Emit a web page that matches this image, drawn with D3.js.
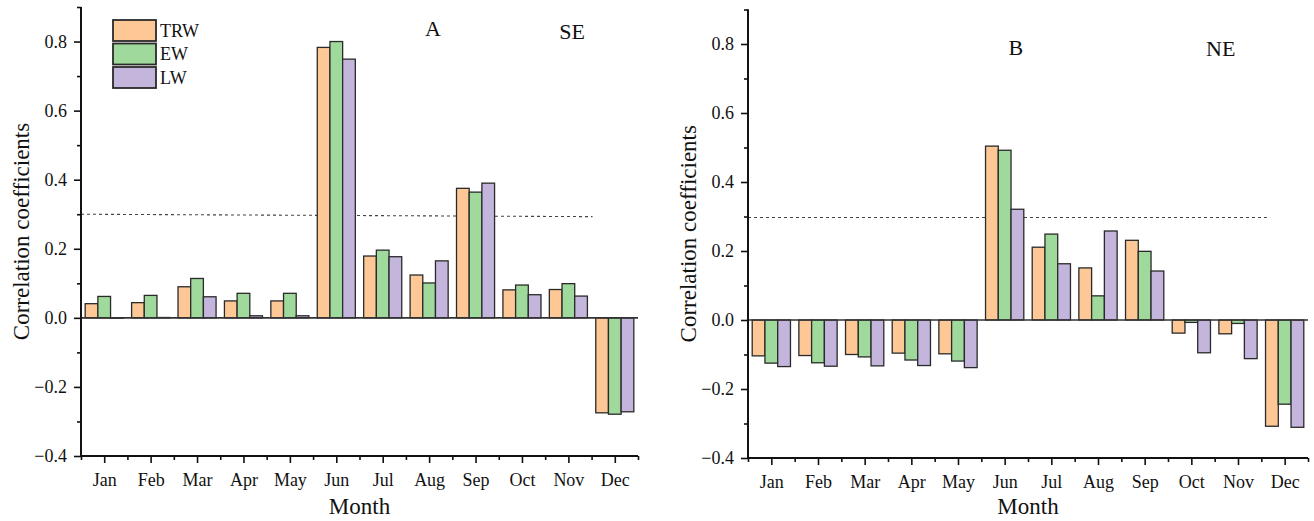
<!DOCTYPE html>
<html>
<head>
<meta charset="utf-8">
<script src="https://cdn.jsdelivr.net/npm/d3@7/dist/d3.min.js"></script>
<style>
  html, body { margin: 0; padding: 0; background: #fff; }
  svg { display: block; }
  text { font-family: "Liberation Serif", "Times New Roman", serif; fill: #111; }
</style>
</head>
<body>
<svg id="chart" width="1314" height="521"></svg>
<script>
// ---------- data ----------
const months = ["Jan","Feb","Mar","Apr","May","Jun","Jul","Aug","Sep","Oct","Nov","Dec"];
const seriesNames = ["TRW","EW","LW"];
const seriesColors = ["#FDC896","#9FDA9C","#C4B5DC"];

// Panel A (SE)
const trwA = [0.041, 0.044, 0.090, 0.049, 0.049, 0.783, 0.179, 0.124, 0.375, 0.081, 0.082, -0.275];
const ewA  = [0.062, 0.065, 0.114, 0.071, 0.071, 0.800, 0.196, 0.101, 0.364, 0.095, 0.099, -0.279];
const lwA  = [-0.001, 0.001, 0.061, 0.006, 0.006, 0.749, 0.177, 0.165, 0.390, 0.067, 0.063, -0.272];

// Panel B (NE)
const trwB = [-0.104, -0.103, -0.100, -0.096, -0.098, 0.504, 0.211, 0.151, 0.231, -0.038, -0.040, -0.308];
const ewB  = [-0.125, -0.124, -0.107, -0.116, -0.119, 0.492, 0.249, 0.070, 0.199, -0.007, -0.010, -0.244];
const lwB  = [-0.135, -0.134, -0.133, -0.132, -0.138, 0.321, 0.163, 0.258, 0.142, -0.095, -0.112, -0.311];

// significance threshold lines (month position, value)
const thresholdA = [[0.5, 0.300], [11.52, 0.293]];
const thresholdB = [[0.5, 0.297], [11.62, 0.297]];

const yMajorTicks = [-0.4, -0.2, 0.0, 0.2, 0.4, 0.6, 0.8];
const yMinorTicks = [-0.3, -0.1, 0.1, 0.3, 0.5, 0.7, 0.9];
const yDomain = [-0.4, 0.9];

// ---------- drawing ----------
const svg = d3.select("#chart");

function panel(cfg) {
  const g = svg.append("g");
  const x = d3.scaleLinear().domain([0.5, 12.5]).range([cfg.left, cfg.right]);
  const xb = d3.scaleBand().domain(months).range([cfg.left, cfg.right])
               .paddingInner(0.18).paddingOuter(0.09);
  const xs = d3.scaleBand().domain(seriesNames).range([0, xb.bandwidth()]);
  const y = d3.scaleLinear().domain(yDomain).range([cfg.bottom, cfg.top]);

  // threshold dashed line
  g.append("path")
    .attr("d", d3.line().x(d => x(d[0])).y(d => y(d[1]))(cfg.threshold))
    .attr("fill", "none").attr("stroke", "#444").attr("stroke-width", 1.1)
    .attr("stroke-dasharray", "3,3");

  // bars
  cfg.series.forEach((vals, si) => {
    g.append("g").selectAll("rect").data(vals).join("rect")
      .attr("x", (d, i) => xb(months[i]) + xs(seriesNames[si]))
      .attr("width", xs.bandwidth())
      .attr("y", d => y(Math.max(0, d)))
      .attr("height", d => Math.abs(y(d) - y(0)))
      .attr("fill", seriesColors[si])
      .attr("stroke", "#2a2a2a")
      .attr("stroke-width", 1.3);
  });

  // zero line
  g.append("line")
    .attr("x1", x(0.5)).attr("x2", x(12.5))
    .attr("y1", y(0)).attr("y2", y(0))
    .attr("stroke", "#333").attr("stroke-width", 1.6);

  // y axis minor
  const yMin = g.append("g").attr("transform", `translate(${cfg.left},0)`)
    .call(d3.axisLeft(y).tickValues(yMinorTicks).tickSize(4).tickFormat(""));
  // y axis major
  const yAx = g.append("g").attr("transform", `translate(${cfg.left},0)`)
    .call(d3.axisLeft(y).tickValues(yMajorTicks).tickSize(7).tickPadding(7)
      .tickFormat(d3.format(".1f")));
  // x axis minor
  const xMin = g.append("g").attr("transform", `translate(0,${cfg.bottom})`)
    .call(d3.axisBottom(x).tickValues(d3.range(0.5, 13, 1)).tickSize(4).tickFormat(""));
  // x axis major
  const xAx = g.append("g").attr("transform", `translate(0,${cfg.bottom})`)
    .call(d3.axisBottom(x).tickValues(d3.range(1, 13)).tickSize(7).tickPadding(10)
      .tickFormat(d => months[d - 1]));

  [yMin, yAx, xMin, xAx].forEach(a => {
    a.select(".domain").attr("stroke", "#111").attr("stroke-width", 1.8);
    a.selectAll(".tick line").attr("stroke", "#111").attr("stroke-width", 1.6);
    a.selectAll("text").attr("font-family", "Liberation Serif").attr("font-size", 18).attr("fill", "#111");
  });
  yMin.select(".domain").attr("d", `M0,${cfg.bottom}V${cfg.top}`);
  yAx.select(".domain").attr("d", `M0,${cfg.bottom}V${cfg.top}`);
  xMin.select(".domain").attr("d", `M${cfg.left},0H${cfg.right}`);
  xAx.select(".domain").attr("d", `M${cfg.left},0H${cfg.right}`);

  // axis titles
  g.append("text")
    .attr("x", (cfg.left + cfg.right) / 2).attr("y", 514)
    .attr("text-anchor", "middle").attr("font-size", 23).text("Month");
  g.append("text")
    .attr("transform", `translate(${cfg.left - 52},${(cfg.top + cfg.bottom) / 2}) rotate(-90)`)
    .attr("text-anchor", "middle").attr("font-size", 23).text("Correlation coefficients");

  // annotations
  cfg.labels.forEach(l => {
    g.append("text").attr("x", x(l.m)).attr("y", y(l.v))
      .attr("text-anchor", "middle").attr("font-size", 22).text(l.t);
  });

  return { g, x, y };
}

const pA = panel({
  left: 81, right: 638, top: 7, bottom: 456,
  series: [trwA, ewA, lwA], threshold: thresholdA,
  labels: [{ t: "A", m: 8.08, v: 0.816 }, { t: "SE", m: 11.08, v: 0.808 }]
});
const pB = panel({
  left: 748, right: 1308, top: 9.5, bottom: 458,
  series: [trwB, ewB, lwB], threshold: thresholdB,
  labels: [{ t: "B", m: 6.24, v: 0.768 }, { t: "NE", m: 10.63, v: 0.765 }]
});

// legend (panel A)
const leg = svg.append("g").attr("transform", "translate(113,20)");
seriesNames.forEach((s, i) => {
  leg.append("rect").attr("x", 0).attr("y", i * 23.5).attr("width", 43).attr("height", 21)
    .attr("fill", seriesColors[i]).attr("stroke", "#2a2a2a").attr("stroke-width", 1.8);
  leg.append("text").attr("x", 47).attr("y", i * 23.5 + 10.5).attr("dy", "0.35em")
    .attr("font-size", 18).text(s);
});
</script>
</body>
</html>
